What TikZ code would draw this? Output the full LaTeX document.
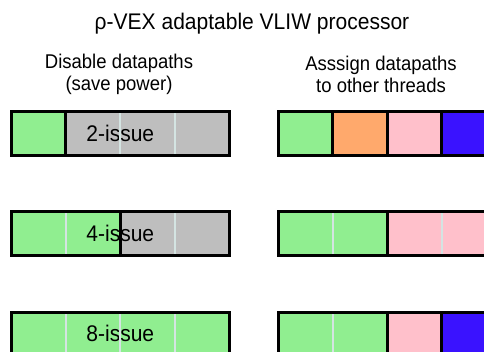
\documentclass[tikz,border=0pt]{standalone}
\usepackage{fontspec}
\setmainfont{Liberation Sans}[FakeStretch=0.93]
\usetikzlibrary{calc}
\definecolor{dpgreen}{HTML}{90EE90}
\definecolor{dpgray}{HTML}{BEBEBE}
\definecolor{dporange}{HTML}{FFA96C}
\definecolor{dppink}{HTML}{FFC0CB}
\definecolor{dpblue}{HTML}{3A12FF}
\definecolor{dplight}{HTML}{D4E4E2}
\begin{document}
\begin{tikzpicture}[x=1pt,y=-1pt,
  cell/.style={rectangle, inner sep=0pt, minimum width=54.25pt, minimum height=43pt, anchor=north west, draw=none},
  lightdiv/.style={draw=dplight, line width=2pt},
  blackdiv/.style={draw=black, line width=3pt},
  border/.style={draw=black, line width=3pt},
  title/.style={font=\fontsize{22.6}{27}\selectfont},
  sub/.style={font=\fontsize{19.9}{22}\selectfont, align=center},
  lbl/.style={font=\fontsize{22.6}{27}\selectfont}]
\useasboundingbox (0,0) rectangle (484,352);
\clip (0,0) rectangle (484,352);
\node[title] (t) at (252,24) {ρ-VEX adaptable VLIW processor};
\node[sub] (s1) at (119,74) {Disable datapaths\\(save power)};
\node[sub] (s2) at (381,74) {Asssign datapaths\\to other threads};
% left row 1
\node[cell, fill=dpgreen] (l1a) at (11,112) {};
\node[cell, fill=dpgray] (l1b) at (l1a.north east) {};
\node[cell, fill=dpgray] (l1c) at (l1b.north east) {};
\node[cell, fill=dpgray] (l1d) at (l1c.north east) {};
% left row 2
\node[cell, fill=dpgreen] (l2a) at (11,212) {};
\node[cell, fill=dpgreen] (l2b) at (l2a.north east) {};
\node[cell, fill=dpgray] (l2c) at (l2b.north east) {};
\node[cell, fill=dpgray] (l2d) at (l2c.north east) {};
% left row 3
\node[cell, fill=dpgreen] (l3a) at (11,312) {};
\node[cell, fill=dpgreen] (l3b) at (l3a.north east) {};
\node[cell, fill=dpgreen] (l3c) at (l3b.north east) {};
\node[cell, fill=dpgreen] (l3d) at (l3c.north east) {};
% right row 1
\node[cell, fill=dpgreen] (r1a) at (278,112) {};
\node[cell, fill=dporange] (r1b) at (r1a.north east) {};
\node[cell, fill=dppink] (r1c) at (r1b.north east) {};
\node[cell, fill=dpblue] (r1d) at (r1c.north east) {};
% right row 2
\node[cell, fill=dpgreen] (r2a) at (278,212) {};
\node[cell, fill=dpgreen] (r2b) at (r2a.north east) {};
\node[cell, fill=dppink] (r2c) at (r2b.north east) {};
\node[cell, fill=dppink] (r2d) at (r2c.north east) {};
% right row 3
\node[cell, fill=dpgreen] (r3a) at (278,312) {};
\node[cell, fill=dpgreen] (r3b) at (r3a.north east) {};
\node[cell, fill=dppink] (r3c) at (r3b.north east) {};
\node[cell, fill=dpblue] (r3d) at (r3c.north east) {};
% labels
\node[lbl] (k1) at ($(l1a.west)!0.5!(l1d.east)$) {2-issue};
\node[lbl] (k2) at ($(l2a.west)!0.5!(l2d.east)$) {4-issue};
\node[lbl] (k3) at ($(l3a.west)!0.5!(l3d.east)$) {8-issue};
% dividers
\draw[blackdiv] (l1b.north west) -- (l1b.south west);
\draw[lightdiv] (l1c.north west) -- (l1c.south west);
\draw[lightdiv] (l1d.north west) -- (l1d.south west);
\draw[lightdiv] (l2b.north west) -- (l2b.south west);
\draw[blackdiv] (l2c.north west) -- (l2c.south west);
\draw[lightdiv] (l2d.north west) -- (l2d.south west);
\draw[lightdiv] (l3b.north west) -- (l3b.south west);
\draw[lightdiv] (l3c.north west) -- (l3c.south west);
\draw[lightdiv] (l3d.north west) -- (l3d.south west);
\draw[blackdiv] (r1b.north west) -- (r1b.south west);
\draw[blackdiv] (r1c.north west) -- (r1c.south west);
\draw[blackdiv] (r1d.north west) -- (r1d.south west);
\draw[lightdiv] (r2b.north west) -- (r2b.south west);
\draw[blackdiv] (r2c.north west) -- (r2c.south west);
\draw[lightdiv] (r2d.north west) -- (r2d.south west);
\draw[lightdiv] (r3b.north west) -- (r3b.south west);
\draw[blackdiv] (r3c.north west) -- (r3c.south west);
\draw[blackdiv] (r3d.north west) -- (r3d.south west);
% borders
\draw[border] (l1a.north west) rectangle (l1d.south east);
\draw[border] (l2a.north west) rectangle (l2d.south east);
\draw[border] (l3a.north west) rectangle (l3d.south east);
\draw[border] (r1a.north west) rectangle (r1d.south east);
\draw[border] (r2a.north west) rectangle (r2d.south east);
\draw[border] (r3a.north west) rectangle (r3d.south east);
\end{tikzpicture}
\end{document}
